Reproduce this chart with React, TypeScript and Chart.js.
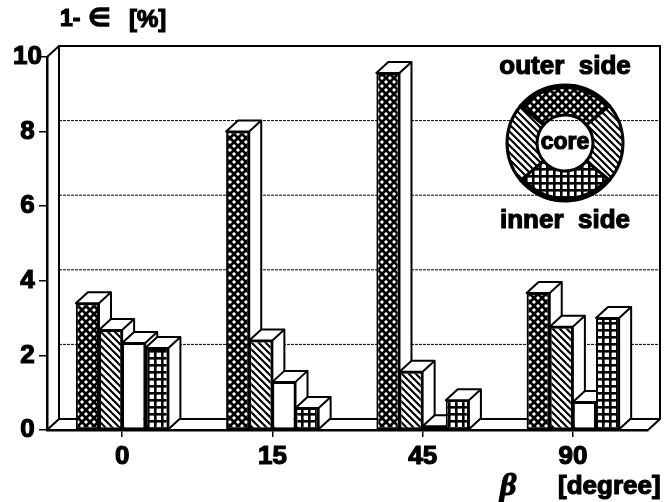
import React, { useEffect, useRef } from "react";
import { Chart, registerables } from "chart.js";

Chart.register(...registerables);

const categories = ["0", "15", "45", "90"];
const outerSide = [3.4, 8.0, 9.57, 3.67];
const sideWall = [2.68, 2.4, 1.56, 2.77];
const core = [2.33, 1.29, 0.1, 0.75];
const innerSide = [2.2, 0.59, 0.8, 3.0];
const seriesNames = ["outer side", "side", "core", "inner side"];
const yTicks = [0, 2, 4, 6, 8, 10];

const FONT = '"Liberation Sans", Arial, sans-serif';
const DX = 12;
const DY = -11;

function tile(size: number, paint: (c: CanvasRenderingContext2D) => void) {
  const cv = document.createElement("canvas");
  cv.width = size;
  cv.height = size;
  const c = cv.getContext("2d")!;
  paint(c);
  return c.createPattern(cv, "repeat")!;
}

function makePatterns() {
  const cross = tile(8, (c) => {
    c.fillStyle = "#000";
    c.fillRect(0, 0, 8, 8);
    c.fillStyle = "#fff";
    for (const [x, y] of [[2, 2], [6, 6]]) {
      c.beginPath();
      c.moveTo(x, y - 2.1);
      c.lineTo(x + 2.1, y);
      c.lineTo(x, y + 2.1);
      c.lineTo(x - 2.1, y);
      c.closePath();
      c.fill();
    }
  });
  const hatch = tile(7, (c) => {
    c.fillStyle = "#fff";
    c.fillRect(0, 0, 7, 7);
    c.strokeStyle = "#000";
    c.lineWidth = 2.1;
    for (const o of [-7, 0, 7]) {
      c.beginPath();
      c.moveTo(o - 1, -1);
      c.lineTo(o + 8, 8);
      c.stroke();
    }
  });
  const grid = tile(7, (c) => {
    c.fillStyle = "#fff";
    c.fillRect(0, 0, 7, 7);
    c.fillStyle = "#000";
    c.fillRect(0, 0, 7, 2.6);
    c.fillRect(0, 0, 2.6, 7);
  });
  return { cross, hatch, grid };
}

const wallPlugin = {
  id: "wall",
  beforeDatasetsDraw(chart: any) {
    const ctx = chart.ctx;
    const { left, right } = chart.chartArea;
    const y = chart.scales.y;
    const y0 = y.getPixelForValue(0);
    const yTop = y.getPixelForValue(10);
    ctx.save();
    ctx.strokeStyle = "#000";
    ctx.lineWidth = 2;
    ctx.beginPath();
    ctx.moveTo(left, yTop);
    ctx.lineTo(left + DX, yTop + DY);
    ctx.lineTo(right + DX, yTop + DY);
    ctx.lineTo(right + DX, y0 + DY);
    ctx.lineTo(right, y0);
    ctx.moveTo(left + DX, yTop + DY);
    ctx.lineTo(left + DX, y0 + DY);
    ctx.lineTo(left, y0);
    ctx.moveTo(left + DX, y0 + DY);
    ctx.lineTo(right + DX, y0 + DY);
    ctx.stroke();
    ctx.lineWidth = 1;
    ctx.setLineDash([3, 1]);
    for (const v of yTicks.slice(1, -1)) {
      const p = y.getPixelForValue(v) + DY;
      ctx.beginPath();
      ctx.moveTo(left + DX, p);
      ctx.lineTo(right + DX, p);
      ctx.stroke();
    }
    ctx.restore();
  },
};

// Bars are drawn left to right, each with its depth faces, so that a bar's top
// overlaps the side face of the bar to its left.
const depthPlugin = {
  id: "depth",
  beforeDatasetsDraw(chart: any) {
    const ctx = chart.ctx;
    chart.data.datasets.forEach((_: any, i: number) => {
      for (const el of chart.getDatasetMeta(i).data) {
        const { x, y, base, width } = el.getProps(["x", "y", "base", "width"], true);
        const l = x - width / 2;
        const r = x + width / 2;
        ctx.save();
        ctx.fillStyle = "#fff";
        ctx.strokeStyle = "#000";
        ctx.lineWidth = 2;
        ctx.lineJoin = "round";
        ctx.beginPath();
        ctx.moveTo(l, y);
        ctx.lineTo(l + DX, y + DY);
        ctx.lineTo(r + DX, y + DY);
        ctx.lineTo(r + DX, base + DY);
        ctx.lineTo(r, base);
        ctx.lineTo(r, y);
        ctx.closePath();
        ctx.fill();
        ctx.stroke();
        ctx.beginPath();
        ctx.moveTo(r, y);
        ctx.lineTo(r + DX, y + DY);
        ctx.stroke();
        ctx.restore();
        el.draw(ctx, chart.chartArea);
      }
    });
    return false;
  },
};

function boldText(ctx: CanvasRenderingContext2D, s: string, x: number, y: number, font: string, align: CanvasTextAlign = "center") {
  ctx.font = font;
  ctx.textAlign = align;
  ctx.textBaseline = "middle";
  ctx.fillStyle = "#000";
  ctx.strokeStyle = "#000";
  ctx.lineWidth = 1.2;
  ctx.fillText(s, x, y);
  ctx.strokeText(s, x, y);
}

function labelPlugin(p: ReturnType<typeof makePatterns>) {
  return {
    id: "labels",
    afterDraw(chart: any) {
      const ctx = chart.ctx;
      ctx.save();
      boldText(ctx, "1-", 60, 20, `bold 23px ${FONT}`, "left");
      boldText(ctx, "∈", 88, 19, `bold 25px "DejaVu Sans"`, "left");
      boldText(ctx, "[%]", 129, 20, `bold 24px ${FONT}`, "left");
      boldText(ctx, "β", 500, 487, `bold italic 32px "Liberation Serif"`, "left");
      boldText(ctx, "[degree]", 558, 487, `bold 26px ${FONT}`, "left");
      boldText(ctx, "outer  side", 565, 67, `bold 26px ${FONT}`);
      boldText(ctx, "inner  side", 565, 221, `bold 26px ${FONT}`);

      const cx = 565;
      const cy = 143;
      const R = 58;
      const r = 28;
      const a = (40 * Math.PI) / 180;
      const sectors: [number, number, CanvasPattern][] = [
        [Math.PI + a, -a, p.cross],
        [-a, a, p.hatch],
        [a, Math.PI - a, p.grid],
        [Math.PI - a, Math.PI + a, p.hatch],
      ];
      ctx.lineWidth = 3;
      ctx.strokeStyle = "#000";
      for (const [s, e, fill] of sectors) {
        ctx.beginPath();
        ctx.arc(cx, cy, R, s, e);
        ctx.arc(cx, cy, r, e, s, true);
        ctx.closePath();
        ctx.fillStyle = fill;
        ctx.fill();
        ctx.stroke();
      }
      ctx.lineWidth = 5;
      for (const [s, e] of [[Math.PI + a, -a], [a, Math.PI - a]]) {
        ctx.beginPath();
        ctx.arc(cx, cy, R - 1.5, s, e);
        ctx.stroke();
      }
      boldText(ctx, "core", cx, cy, `bold 23px ${FONT}`);
      ctx.restore();
    },
  };
}

export default function App() {
  const ref = useRef<HTMLCanvasElement>(null);
  useEffect(() => {
    document.body.style.margin = "0";
    const p = makePatterns();
    const fills = [p.cross, p.hatch, "#fff", p.grid];
    const series = [outerSide, sideWall, core, innerSide];
    const chart = new Chart(ref.current!, {
      type: "bar",
      data: {
        labels: categories,
        datasets: series.map((data, i) => ({
          label: seriesNames[i],
          data,
          backgroundColor: fills[i],
          borderColor: "#000",
          borderWidth: 2,
          borderSkipped: false,
          categoryPercentage: 0.616,
          barPercentage: 1,
        })),
      } as any,
      options: {
        responsive: false,
        animation: false,
        layout: { padding: { top: 57, right: 16, left: 0, bottom: 0 } },
        plugins: { legend: { display: false }, tooltip: { enabled: false } },
        scales: {
          x: {
            afterFit: (s: any) => {
              s.height = 72;
            },
            grid: { offset: false, drawOnChartArea: false, drawTicks: true, tickLength: 7, color: "#000", lineWidth: 1.5 },
            border: { display: true, color: "#000", width: 2.5 },
            ticks: {
              color: "#000",
              padding: 4,
              maxRotation: 0,
              font: { family: "Liberation Sans", size: 26, weight: "bold" },
              textStrokeColor: "#000",
              textStrokeWidth: 1.2,
            },
          },
          y: {
            min: 0,
            max: 10,
            afterFit: (s: any) => {
              s.width = 47;
            },
            grid: { drawOnChartArea: false, drawTicks: true, tickLength: 8, color: "#000", lineWidth: 1.5 },
            border: { display: true, color: "#000", width: 2.5 },
            ticks: {
              stepSize: 2,
              color: "#000",
              padding: -3,
              callback: (v: any) => (v === 10 ? "10" : v + " "),
              font: { family: "Liberation Sans", size: 26, weight: "bold" },
              textStrokeColor: "#000",
              textStrokeWidth: 1.2,
            },
          },
        },
      } as any,
      plugins: [wallPlugin, depthPlugin, labelPlugin(p)],
    });
    return () => chart.destroy();
  }, []);
  return <canvas ref={ref} width={664} height={502} style={{ display: "block" }} />;
}
